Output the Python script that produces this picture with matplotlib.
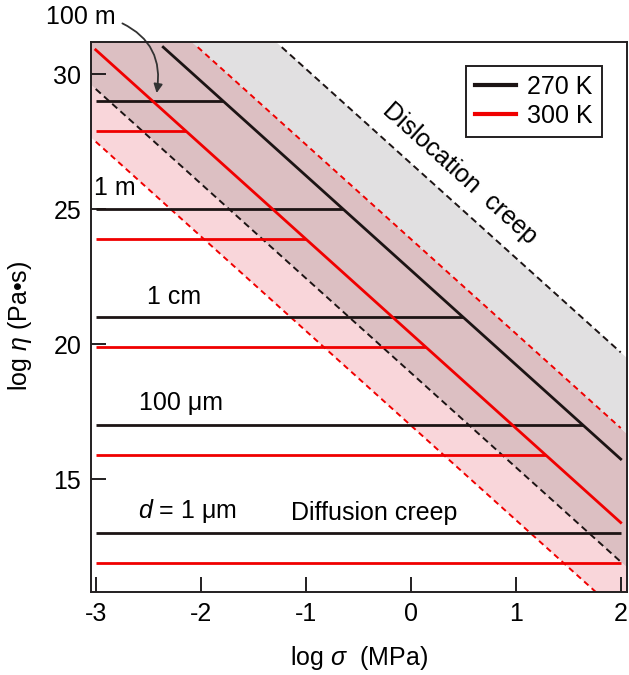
import numpy as np
import matplotlib
matplotlib.use("Agg")
import matplotlib.pyplot as plt
from matplotlib.lines import Line2D

plt.rcParams['font.family'] = ['Liberation Sans', 'DejaVu Sans']
plt.rcParams['mathtext.fontset'] = 'custom'
plt.rcParams['mathtext.it'] = 'Liberation Sans:italic'
plt.rcParams['mathtext.rm'] = 'Liberation Sans'

# ---- data ----
temps = ['270 K', '300 K']
colors = ['#1c1414', '#f00000']
slope = -3.5                      # d log(eta) / d log(sigma) for dislocation creep
disl_center = [22.75, 20.4]       # intercepts (log eta at log sigma = 0)
disl_lower = [18.95, 17.0]
disl_upper = [26.7, 23.9]
grain_labels = ['$\\mathit{d}$ = 1 μm', '100 μm', '1 cm', '1 m', '100 m']
diff_270 = [13, 17, 21, 25, 29]   # log eta, diffusion creep
diff_300 = [11.9, 15.9, 19.9, 23.9, 27.9]
xticks = [-3, -2, -1, 0, 1, 2]
yticks = [15, 20, 25, 30]
xmin_data, xmax_data = -3, 2
ytop_lines = 31.0

fig = plt.figure(figsize=(6.29, 6.75), dpi=100)
ax = fig.add_axes([91/629, 1-592/675, (626.5-91)/629, (592-42)/675])
ax.set_xlim(-3.045, 2.055)
ax.set_ylim(10.83, 31.19)

xs = np.linspace(-3.5, 2.5, 200)
pink = '#f9d6da'
overlap = '#dcbfc2'
gray = '#e1e0e1'
ax.fill_between(xs, disl_lower[1] + slope*xs, disl_lower[0] + slope*xs, color=pink, lw=0, zorder=1)
ax.fill_between(xs, disl_lower[0] + slope*xs, disl_upper[1] + slope*xs, color=overlap, lw=0, zorder=1)
ax.fill_between(xs, disl_upper[1] + slope*xs, disl_upper[0] + slope*xs, color=gray, lw=0, zorder=1)

def diag(a, **kw):
    x0 = max(xmin_data, (ytop_lines - a)/slope)
    x = np.array([x0, xmax_data])
    ax.plot(x, a + slope*x, **kw)

# dashed boundaries
diag(disl_lower[0], color=colors[0], lw=1.4, ls=(0, (3.5, 2.2)), zorder=3)
diag(disl_upper[0], color=colors[0], lw=1.4, ls=(0, (3.5, 2.2)), zorder=3)
diag(disl_lower[1], color=colors[1], lw=1.4, ls=(0, (3, 2.2)), zorder=3)
diag(disl_upper[1], color=colors[1], lw=1.4, ls=(0, (3, 2.2)), zorder=3)

# diffusion creep horizontal lines, ending at the dislocation line
for lvls, a, c in [(diff_270, disl_center[0], colors[0]), (diff_300, disl_center[1], colors[1])]:
    for v in lvls:
        xe = min(xmax_data, (v - a)/slope)
        ax.plot([xmin_data, xe], [v, v], color=c, lw=2.0, solid_capstyle='butt', zorder=4)

# solid dislocation lines
diag(disl_center[0], color=colors[0], lw=2.0, zorder=5)
diag(disl_center[1], color=colors[1], lw=2.0, zorder=5)

fs = 18
# grain size labels
ax.text(-2.13, 13.83, grain_labels[0], fontsize=fs, ha='center', va='center')
ax.text(-2.19, 17.83, grain_labels[1], fontsize=fs, ha='center', va='center')
ax.text(-2.25, 21.76, grain_labels[2], fontsize=fs, ha='center', va='center')
ax.text(-2.82, 25.78, grain_labels[3], fontsize=fs, ha='center', va='center')
ax.annotate(grain_labels[4], xy=(-2.42, 29.3), xytext=(-3.14, 32.12),
            fontsize=fs, ha='center', va='center', annotation_clip=False,
            arrowprops=dict(arrowstyle='-|>', connectionstyle='arc3,rad=-0.4',
                            color='#333333', lw=1.3, mutation_scale=13,
                            relpos=(1.0, 0.35), shrinkA=3, shrinkB=0))
ax.text(-0.345, 13.75, 'Diffusion creep', fontsize=fs, ha='center', va='center')
ax.text(0.47, 26.31, 'Dislocation  creep', fontsize=fs, ha='center', va='center',
        rotation=-42, rotation_mode='anchor')

# legend
handles = [Line2D([], [], color=c, lw=3) for c in colors]
leg = ax.legend(handles, temps, loc='upper right', bbox_to_anchor=(0.954, 0.956),
                borderaxespad=0, fontsize=fs, frameon=True, fancybox=False,
                edgecolor='#231f20', framealpha=1, handlelength=1.65,
                handletextpad=0.45, labelspacing=0.2, borderpad=0.35)
leg.get_frame().set_linewidth(1.4)
leg.set_zorder(10)

ax.set_xticks(xticks)
ax.set_yticks(yticks)
ax.set_xticklabels([str(t) for t in xticks])
ax.tick_params(direction='in', length=11, width=1.4, labelsize=fs, pad=7,
               colors='#231f20', labelcolor='black')
for s in ax.spines.values():
    s.set_linewidth(1.4)
    s.set_color('#231f20')
    s.set_zorder(12)

ax.set_xlabel('log $\\mathit{\\sigma}$  (MPa)', fontsize=fs)
ax.set_ylabel('log $\\mathit{\\eta}$ (Pa•s)', fontsize=fs)
ax.xaxis.set_label_coords(0.5, -0.12)
ax.yaxis.set_label_coords(-0.1326, 0.484)
for lab in (ax.xaxis.label, ax.yaxis.label):
    lab.set_va('center')

fig.savefig('out.png', dpi=100)
